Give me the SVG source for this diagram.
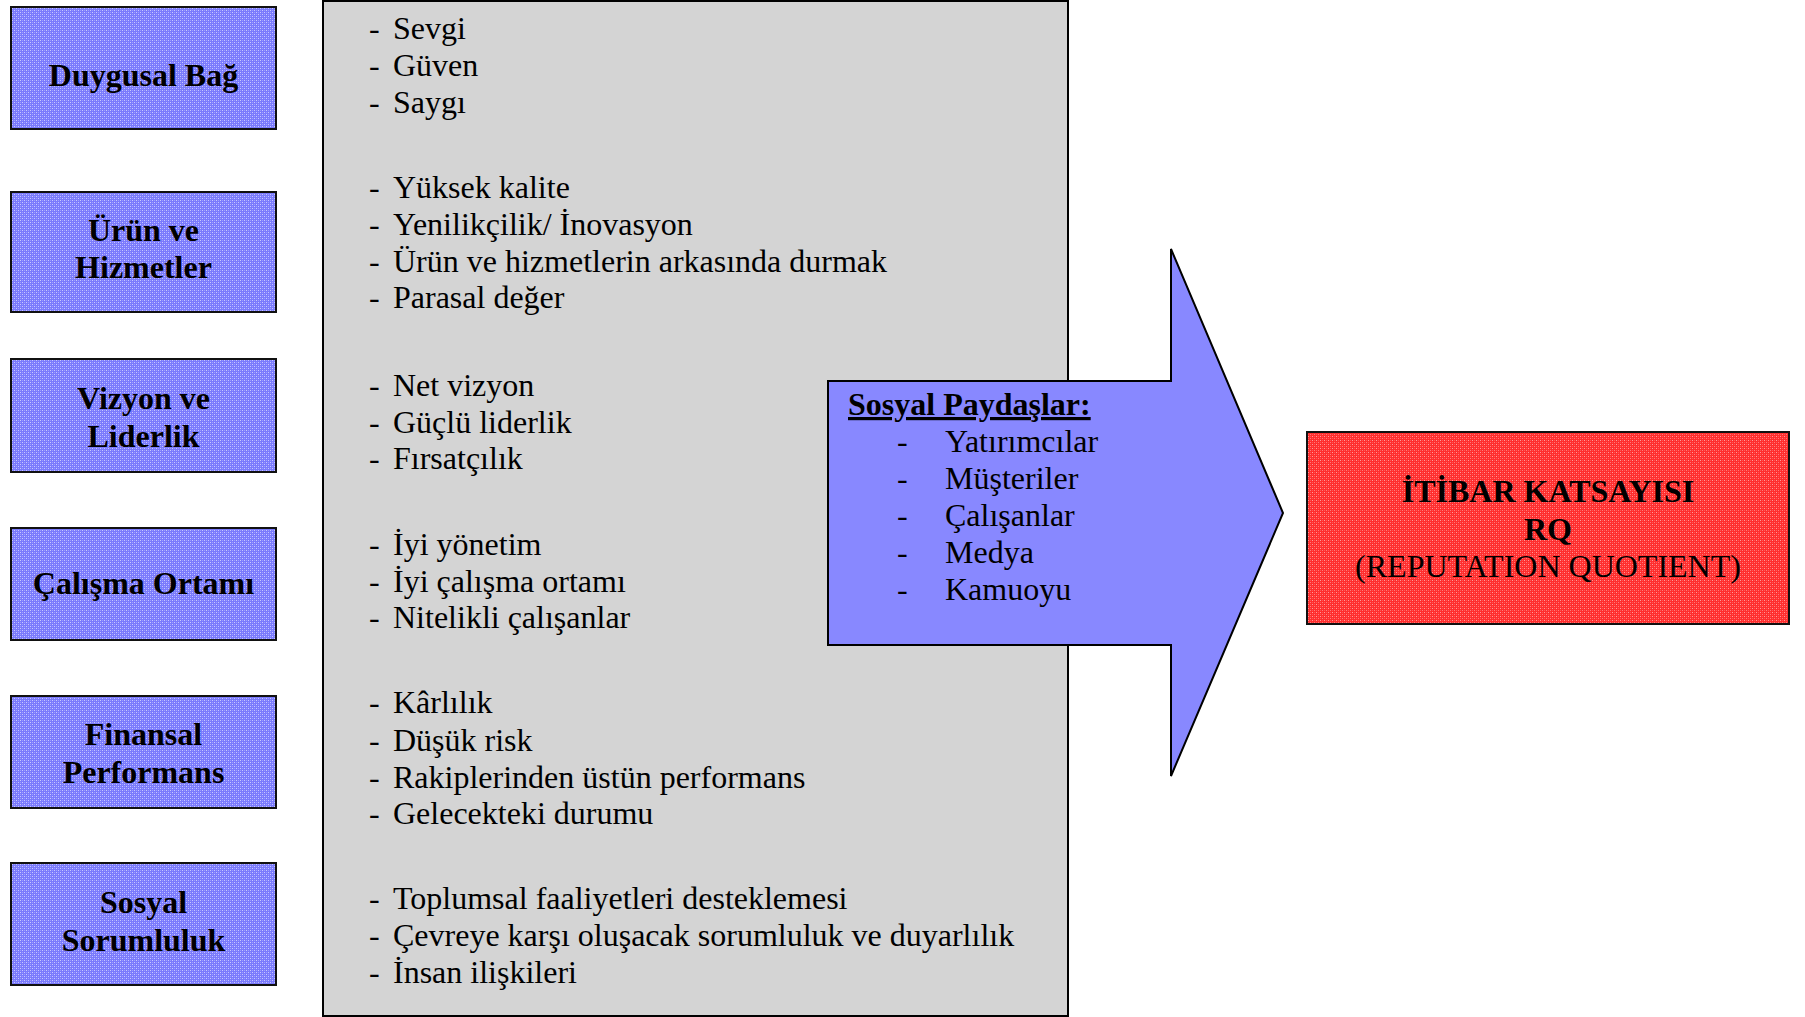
<svg xmlns="http://www.w3.org/2000/svg" width="1805" height="1017" viewBox="0 0 1805 1017">
  <defs>
    <!-- dotted fills for the factor boxes and the result box -->
    <pattern id="dotBlue" patternUnits="userSpaceOnUse" width="4" height="4">
      <rect width="4" height="4" fill="#7a7afc"/>
      <rect x="0" y="0" width="1" height="1" fill="#c8c8ff"/>
      <rect x="2" y="2" width="1" height="1" fill="#c8c8ff"/>
      <rect x="2" y="0" width="1" height="1" fill="#9d9dff"/>
      <rect x="0" y="2" width="1" height="1" fill="#9d9dff"/>
    </pattern>
    <pattern id="dotRed" patternUnits="userSpaceOnUse" width="4" height="4">
      <rect width="4" height="4" fill="#ff2e2e"/>
      <rect x="0" y="0" width="1" height="1" fill="#ff9a9a"/>
      <rect x="2" y="2" width="1" height="1" fill="#ff7a7a"/>
      <rect x="2" y="0" width="1" height="1" fill="#ff5555"/>
      <rect x="0" y="2" width="1" height="1" fill="#ff5555"/>
    </pattern>
    <style>
      .factor rect { fill: url(#dotBlue); stroke: #111; stroke-width: 2; }
      .factor text { font-family: "Liberation Serif", "Times New Roman", serif; font-weight: bold; font-size: 32px; fill: #000; text-anchor: middle; }
      .panel { fill: #d4d4d4; stroke: #000; stroke-width: 2; }
      .item { font-family: "Liberation Serif", "Times New Roman", serif; font-size: 32px; fill: #000; }
      .arrow { fill: #8888ff; stroke: #000; stroke-width: 2; stroke-linejoin: miter; }
      .head { font-family: "Liberation Serif", "Times New Roman", serif; font-size: 32px; font-weight: bold; fill: #000; text-decoration: underline; }
      .result rect { fill: url(#dotRed); stroke: #111; stroke-width: 2; }
      .result text { font-family: "Liberation Serif", "Times New Roman", serif; font-size: 32px; fill: #000; text-anchor: middle; }
    </style>
  </defs>

  <rect width="1805" height="1017" fill="#ffffff"/>

  <!-- reputation factors -->
  <g id="duygusal-bag" class="factor">
    <rect x="11" y="7" width="265" height="122"/>
    <text x="143.5" y="86">Duygusal Bağ</text>
  </g>
  <g id="urun-ve-hizmetler" class="factor">
    <rect x="11" y="192" width="265" height="120"/>
    <text x="143.5" y="241">Ürün ve</text>
    <text x="143.5" y="278">Hizmetler</text>
  </g>
  <g id="vizyon-ve-liderlik" class="factor">
    <rect x="11" y="359" width="265" height="113"/>
    <text x="143.5" y="409">Vizyon ve</text>
    <text x="143.5" y="447">Liderlik</text>
  </g>
  <g id="calisma-ortami" class="factor">
    <rect x="11" y="528" width="265" height="112"/>
    <text x="143.5" y="594">Çalışma Ortamı</text>
  </g>
  <g id="finansal-performans" class="factor">
    <rect x="11" y="696" width="265" height="112"/>
    <text x="143.5" y="745">Finansal</text>
    <text x="143.5" y="783">Performans</text>
  </g>
  <g id="sosyal-sorumluluk" class="factor">
    <rect x="11" y="863" width="265" height="122"/>
    <text x="143.5" y="913">Sosyal</text>
    <text x="143.5" y="951">Sorumluluk</text>
  </g>

  <!-- attribute list panel -->
  <g id="attributes">
    <rect class="panel" x="323" y="1" width="745" height="1015"/>
    <g class="item">
      <text x="369" y="39">-</text><text x="393" y="39">Sevgi</text>
      <text x="369" y="76">-</text><text x="393" y="76">Güven</text>
      <text x="369" y="113">-</text><text x="393" y="113">Saygı</text>

      <text x="369" y="198">-</text><text x="393" y="198">Yüksek kalite</text>
      <text x="369" y="235">-</text><text x="393" y="235">Yenilikçilik/ İnovasyon</text>
      <text x="369" y="272">-</text><text x="393" y="272">Ürün ve hizmetlerin arkasında durmak</text>
      <text x="369" y="308">-</text><text x="393" y="308">Parasal değer</text>

      <text x="369" y="396">-</text><text x="393" y="396">Net vizyon</text>
      <text x="369" y="433">-</text><text x="393" y="433">Güçlü liderlik</text>
      <text x="369" y="469">-</text><text x="393" y="469">Fırsatçılık</text>

      <text x="369" y="555">-</text><text x="393" y="555">İyi yönetim</text>
      <text x="369" y="592">-</text><text x="393" y="592">İyi çalışma ortamı</text>
      <text x="369" y="628">-</text><text x="393" y="628">Nitelikli çalışanlar</text>

      <text x="369" y="713">-</text><text x="393" y="713">Kârlılık</text>
      <text x="369" y="751">-</text><text x="393" y="751">Düşük risk</text>
      <text x="369" y="788">-</text><text x="393" y="788">Rakiplerinden üstün performans</text>
      <text x="369" y="824">-</text><text x="393" y="824">Gelecekteki durumu</text>

      <text x="369" y="909">-</text><text x="393" y="909">Toplumsal faaliyetleri desteklemesi</text>
      <text x="369" y="946">-</text><text x="393" y="946">Çevreye karşı oluşacak sorumluluk ve duyarlılık</text>
      <text x="369" y="983">-</text><text x="393" y="983">İnsan ilişkileri</text>
    </g>
  </g>

  <!-- stakeholders block arrow -->
  <g id="connectors">
    <polygon class="arrow" points="828,381 1171,381 1171,249 1283,513 1171,776 1171,645 828,645"/>
  </g>
  <g id="sosyal-paydaslar">
    <text class="head" x="848" y="415">Sosyal Paydaşlar:</text>
    <g class="item">
      <text x="897" y="452">-</text><text x="945" y="452">Yatırımcılar</text>
      <text x="897" y="489">-</text><text x="945" y="489">Müşteriler</text>
      <text x="897" y="526">-</text><text x="945" y="526">Çalışanlar</text>
      <text x="897" y="563">-</text><text x="945" y="563">Medya</text>
      <text x="897" y="600">-</text><text x="945" y="600">Kamuoyu</text>
    </g>
  </g>

  <!-- reputation quotient -->
  <g id="itibar-katsayisi" class="result">
    <rect x="1307" y="432" width="482" height="192"/>
    <text x="1548" y="502" font-weight="bold">İTİBAR KATSAYISI</text>
    <text x="1548" y="540" font-weight="bold">RQ</text>
    <text x="1548" y="577">(REPUTATION QUOTIENT)</text>
  </g>
</svg>
